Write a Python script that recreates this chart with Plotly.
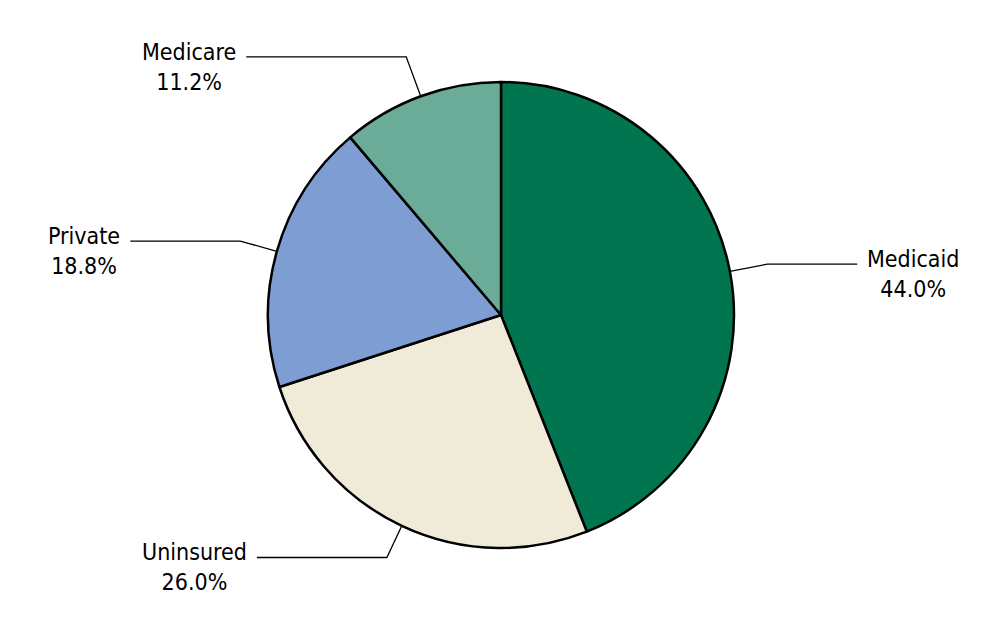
import numpy as np
import plotly.graph_objects as go

# ---------------------------------------------------------------------------------------
# DATA
labels = ["Medicaid", "Uninsured", "Private", "Medicare"]
values = [44.0, 26.0, 18.8, 11.2]
colors = ["#00754F", "#F0EAD8", "#7E9DD2", "#6AAC98"]

# ---------------------------------------------------------------------------------------
# GEOMETRY (pixels) - page body margin shifts the plot by 8 px, compensate
W, H = 1000, 626
cx, cy, r = 493, 307, 233
elbow_ext = [38, 35, 38, 42]     # radial length of the first leader segment
horiz_len = [90, 130, 110, 160]  # horizontal part of the leader

fig = go.Figure(go.Pie(labels=labels, values=values, sort=False, direction="clockwise",
                       rotation=0, textinfo="none", hoverinfo="label+percent",
                       marker=dict(colors=colors, line=dict(color="black", width=2.5)),
                       domain=dict(x=[(cx - r) / W, (cx + r) / W], y=[1 - (cy + r) / H, 1 - (cy - r) / H])))

def px(x, y):
    return x / W, 1 - y / H

total = sum(values)
cum = 0
shapes, annotations = [], []
for i, (lab, v) in enumerate(zip(labels, values)):
    mid = (cum + v / 2) / total * 2 * np.pi
    cum += v
    s, c = np.sin(mid), np.cos(mid)
    x0, y0 = cx + r * s, cy - r * c
    x1, y1 = cx + (r + elbow_ext[i]) * s, cy - (r + elbow_ext[i]) * c
    side = 1 if s > 0 else -1
    x2 = x1 + side * horiz_len[i]
    pts = [px(x0, y0), px(x1, y1), px(x2, y1)]
    path = "M %f %f L %f %f L %f %f" % (pts[0] + pts[1] + pts[2])
    shapes.append(dict(type="path", xref="paper", yref="paper", path=path,
                       line=dict(color="black", width=1.3)))
    annotations.append(dict(xref="paper", yref="paper", x=pts[2][0] + side * 8 / W, y=pts[2][1] - 10 / H,
                            xanchor="left" if side > 0 else "right", yanchor="middle", align="center",
                            showarrow=False, text="%s<br>%.1f%%" % (lab, v)))

fig.update_layout(width=W, height=H, margin=dict(l=0, r=0, t=0, b=0), showlegend=False,
                  paper_bgcolor="white", shapes=shapes, annotations=annotations,
                  font=dict(family="Liberation Sans Narrow, DejaVu Sans Condensed, Arial", size=23, color="black"))

fig.write_html("out.html")
